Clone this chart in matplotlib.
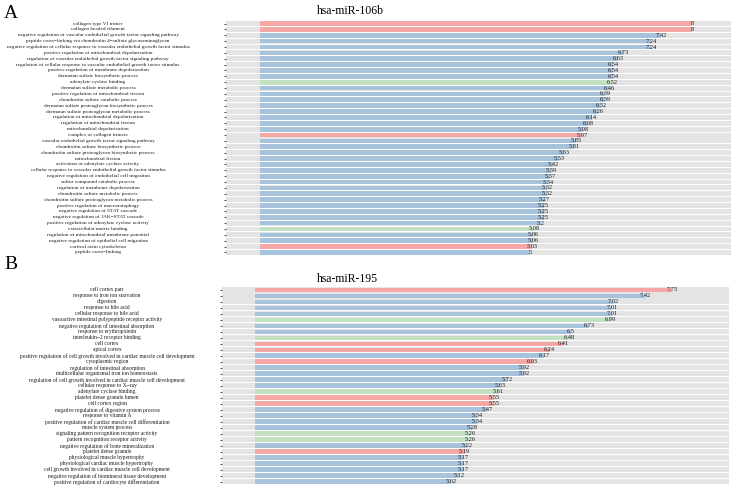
import matplotlib
matplotlib.use("Agg")
import matplotlib.pyplot as plt
from matplotlib.transforms import blended_transform_factory

plt.rcParams['font.family'] = ['Liberation Serif', 'DejaVu Serif']

# ---------------- data ----------------
terms_a = [
    "collagen type VI trimer",
    "collagen beaded filament",
    "negative regulation of vascular endothelial growth factor signaling pathway",
    "peptide cross\u2212linking via chondroitin 4\u2212sulfate glycosaminoglycan",
    "negative regulation of cellular response to vascular endothelial growth factor stimulus",
    "positive regulation of mitochondrial depolarization",
    "regulation of vascular endothelial growth factor signaling pathway",
    "regulation of cellular response to vascular endothelial growth factor stimulus",
    "positive regulation of membrane depolarization",
    "dermatan sulfate biosynthetic process",
    "adenylate cyclase binding",
    "dermatan sulfate metabolic process",
    "positive regulation of mitochondrial fission",
    "chondroitin sulfate catabolic process",
    "dermatan sulfate proteoglycan biosynthetic process",
    "dermatan sulfate proteoglycan metabolic process",
    "regulation of mitochondrial depolarization",
    "regulation of mitochondrial fission",
    "mitochondrial depolarization",
    "complex of collagen trimers",
    "vascular endothelial growth factor signaling pathway",
    "chondroitin sulfate biosynthetic process",
    "chondroitin sulfate proteoglycan biosynthetic process",
    "mitochondrial fission",
    "activation of adenylate cyclase activity",
    "cellular response to vascular endothelial growth factor stimulus",
    "negative regulation of endothelial cell migration",
    "sulfur compound catabolic process",
    "regulation of membrane depolarization",
    "chondroitin sulfate metabolic process",
    "chondroitin sulfate proteoglycan metabolic process",
    "positive regulation of macroautophagy",
    "negative regulation of STAT cascade",
    "negative regulation of JAK\u2212STAT cascade",
    "positive regulation of adenylate cyclase activity",
    "extracellular matrix binding",
    "regulation of mitochondrial membrane potential",
    "negative regulation of epithelial cell migration",
    "cortical actin cytoskeleton",
    "peptide cross\u2212linking",
]
values_a = [8, 8, 7.42, 7.24, 7.24, 6.73, 6.63, 6.54, 6.54, 6.54, 6.52, 6.46, 6.39,
            6.39, 6.32, 6.26, 6.14, 6.08, 5.98, 5.97, 5.85, 5.81, 5.63, 5.53, 5.42,
            5.39, 5.37, 5.34, 5.32, 5.32, 5.27, 5.25, 5.25, 5.25, 5.2, 5.08, 5.06,
            5.06, 5.03, 5]
cats_a = ["CC", "CC", "BP", "BP", "BP", "BP", "BP", "BP", "BP", "BP", "MF", "BP", "BP",
          "BP", "BP", "BP", "BP", "BP", "BP", "CC", "BP", "BP", "BP", "BP", "BP",
          "BP", "BP", "BP", "BP", "BP", "BP", "BP", "BP", "BP", "BP", "MF", "BP",
          "BP", "CC", "BP"]

terms_b = [
    "cell cortex part",
    "response to iron ion starvation",
    "digestion",
    "response to bile acid",
    "cellular response to bile acid",
    "vasoactive intestinal polypeptide receptor activity",
    "negative regulation of intestinal absorption",
    "response to erythropoietin",
    "interleukin\u22122 receptor binding",
    "cell cortex",
    "apical cortex",
    "positive regulation of cell growth involved in cardiac muscle cell development",
    "cytoplasmic region",
    "regulation of intestinal absorption",
    "multicellular organismal iron ion homeostasis",
    "regulation of cell growth involved in cardiac muscle cell development",
    "cellular response to X\u2212ray",
    "adenylate cyclase binding",
    "platelet dense granule lumen",
    "cell cortex region",
    "negative regulation of digestive system process",
    "response to vitamin A",
    "positive regulation of cardiac muscle cell differentiation",
    "muscle system process",
    "signaling pattern recognition receptor activity",
    "pattern recognition receptor activity",
    "negative regulation of bone mineralization",
    "platelet dense granule",
    "physiological muscle hypertrophy",
    "physiological cardiac muscle hypertrophy",
    "cell growth involved in cardiac muscle cell development",
    "negative regulation of biomineral tissue development",
    "positive regulation of cardiocyte differentiation",
]
values_b = [7.75, 7.42, 7.02, 7.01, 7.01, 6.99, 6.73, 6.5, 6.48, 6.41, 6.24, 6.17, 6.03,
            5.92, 5.92, 5.72, 5.63, 5.61, 5.55, 5.55, 5.47, 5.34, 5.34, 5.28, 5.26,
            5.26, 5.22, 5.19, 5.17, 5.17, 5.17, 5.12, 5.02]
cats_b = ["CC", "BP", "BP", "BP", "BP", "MF", "BP", "BP", "MF", "CC", "CC", "BP", "CC",
          "BP", "BP", "BP", "BP", "MF", "CC", "CC", "BP", "BP", "BP", "BP", "MF",
          "MF", "BP", "CC", "BP", "BP", "BP", "BP", "BP"]

titles = ["hsa-miR-106b", "hsa-miR-195"]
panel_letters = ["A", "B"]

# ---------------- style ----------------
colors = {"CC": "#F4A7A5", "BP": "#A7C3DB", "MF": "#C3E0C1"}
grey = "#E4E4E4"

W, H = 733, 486
fig = plt.figure(figsize=(W / 100, H / 100), dpi=100)


def px_axes(l, t, r, b):
    return fig.add_axes([l / W, 1 - b / H, (r - l) / W, (b - t) / H])


panels = [
    dict(terms=terms_a, values=values_a, cats=cats_a, box=(226, 20.6, 731, 255.4),
         base=0.0, xlim=(-0.63, 8.72), label_cx=98, label_fs=3.75,
         title_xy=(350, 11), letter_xy=(4, 18)),
    dict(terms=terms_b, values=values_b, cats=cats_b, box=(222, 287, 729, 484.7),
         base=2.61, xlim=(2.20, 8.45), label_cx=107, label_fs=4.0,
         title_xy=(347, 279), letter_xy=(4, 269)),
]

for i, p in enumerate(panels):
    ax = px_axes(*p["box"])
    n = len(p["terms"])
    y = list(range(n))
    x0, x1 = p["xlim"]
    ax.barh(y, [x1 - x0] * n, left=x0, height=0.84, color=grey, linewidth=0)
    widths = [v - p["base"] for v in p["values"]]
    ax.barh(y, widths, left=p["base"], height=0.8,
            color=[colors[c] for c in p["cats"]], linewidth=0)
    for yi, v in zip(y, p["values"]):
        ax.text(v, yi, f"{v:g}", ha="center", va="center", fontsize=4.6,
                color="#1a1a1a")
    ax.set_xlim(x0, x1)
    ax.set_ylim(n - 0.5, -0.5)
    ax.set_yticks(y)
    ax.set_yticklabels([])
    ax.set_xticks([])
    ax.tick_params(axis="y", length=1.6, width=0.6, color="#333333")
    for s in ax.spines.values():
        s.set_visible(False)
    tr = blended_transform_factory(fig.transFigure, ax.transData)
    for yi, t in zip(y, p["terms"]):
        ax.text(p["label_cx"] / W, yi, t, transform=tr, ha="center", va="center",
                fontsize=p["label_fs"], color="#1a1a1a")
    tx, ty = p["title_xy"]
    fig.text(tx / W, 1 - ty / H, titles[i], ha="center", va="center", fontsize=8.5)
    lx, ly = p["letter_xy"]
    fig.text(lx / W, 1 - ly / H, panel_letters[i], ha="left", va="baseline",
             fontsize=14)

fig.savefig("out.png", dpi=100)
